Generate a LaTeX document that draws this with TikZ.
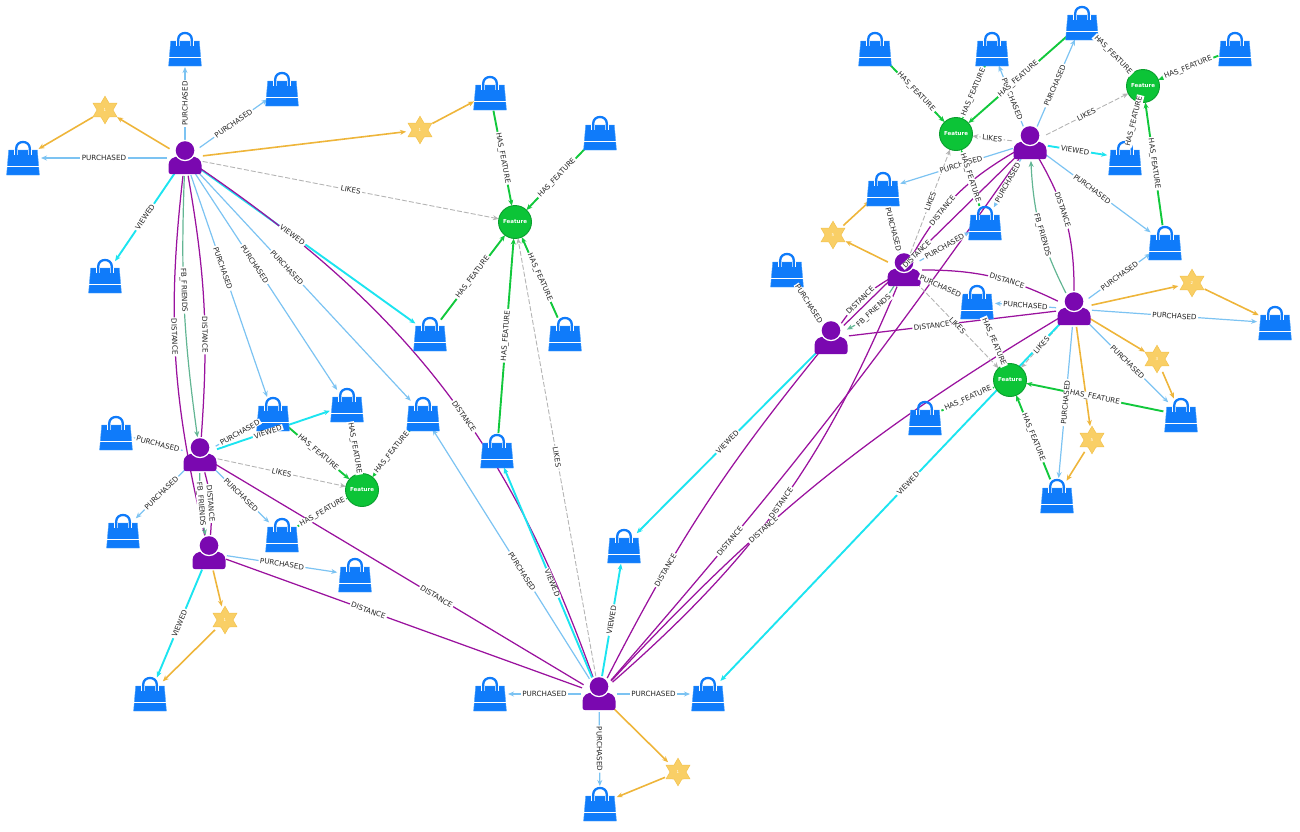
\documentclass[tikz,border=0pt]{standalone}
\usepackage{fontspec}
\setmainfont{DejaVu Sans}
\usetikzlibrary{arrows.meta,shapes.geometric}
\pgfdeclarelayer{edgelayer}
\pgfdeclarelayer{labellayer}
\pgfsetlayers{edgelayer,main,labellayer}
\definecolor{bagblue}{HTML}{0F7BFA}
\definecolor{bagedge}{HTML}{4DA3FC}
\definecolor{usrpurple}{HTML}{7A08B0}
\definecolor{featgreen}{HTML}{0CC437}
\definecolor{featedge}{HTML}{0A9E2E}
\definecolor{starfill}{HTML}{F9CF66}
\definecolor{staredge}{HTML}{F3C24E}
\definecolor{cpur}{HTML}{7CC3F2}
\definecolor{cview}{HTML}{1CE4F0}
\definecolor{cfeat}{HTML}{12C83C}
\definecolor{cdist}{HTML}{9A129E}
\definecolor{cfb}{HTML}{62B593}
\definecolor{clike}{HTML}{B4B4B4}
\definecolor{cstar}{HTML}{EEB53A}
\newcounter{edgeno}
\tikzset{
  x=1pt,y=-1pt,
  hit/.style={circle,minimum size=36pt,inner sep=0pt,outer sep=0pt},
  hitstar/.style={circle,minimum size=28pt,inner sep=0pt,outer sep=0pt},
  feat/.style={circle,minimum size=33pt,inner sep=0pt,outer sep=0pt,fill=featgreen,draw=featedge,line width=.9pt,
     text=white,font=\fontsize{5.5}{7}\selectfont\bfseries},
  tip/.style={-{Stealth[length=6pt,width=5pt]}},
  pur/.style={draw=cpur,line width=1.2pt,tip},
  view/.style={draw=cview,line width=1.9pt,tip},
  hasf/.style={draw=cfeat,line width=1.9pt,tip},
  dist/.style={draw=cdist,line width=1.25pt},
  fbf/.style={draw=cfb,line width=1.2pt,tip},
  likes/.style={draw=clike,line width=.9pt,dashed,dash pattern=on 5pt off 2pt,tip},
  orng/.style={draw=cstar,line width=1.6pt,tip},
  lab/.style={fill=white,text=black!85,inner xsep=1.5pt,inner ysep=.3pt,sloped,font=\fontsize{7.2}{8}\selectfont},
  pics/bagicon/.style={code={
    \fill[bagblue,draw=bagedge,line width=.4pt] (-14.3,-8) -- (14.3,-8) -- (16.4,17) -- (-16.4,17) -- cycle;
    \draw[white,line width=1.1pt] (-15.8,8.5) -- (15.8,8.5);
    \draw[white,line width=4pt] (-6.8,-7.6) -- (-6.8,-3);
    \draw[white,line width=4pt] (6.8,-7.6) -- (6.8,-3);
    \draw[bagblue,line width=2.3pt] (-6.8,-3.2) -- (-6.8,-9.5) .. controls (-6.8,-18.2) and (6.8,-18.2) .. (6.8,-9.5) -- (6.8,-3.2);
  }},
  pics/usericon/.style={code={
    \fill[usrpurple] (-16.5,13.5) -- (-16.5,7) .. controls (-16.5,1) and (-11,-1.5) .. (-6,-1.5) -- (6,-1.5) .. controls (11,-1.5) and (16.5,1) .. (16.5,7) -- (16.5,13.5) .. controls (16.5,15.3) and (15.3,16) .. (14,16) -- (-14,16) .. controls (-15.3,16) and (-16.5,15.3) .. (-16.5,13.5) -- cycle;
    \fill[white] (0,-7.5) circle[radius=10.7pt];
    \fill[usrpurple] (0,-7.5) circle[radius=9.3pt];
  }},
  pics/staricon/.style={code={
    \fill[starfill,draw=staredge,line width=.5pt]
      (0,-13.8) -- (4,-7) -- (12,-6.9) -- (8,0) -- (12,6.9) -- (4,7) -- (0,13.8) -- (-4,7) -- (-12,6.9) -- (-8,0) -- (-12,-6.9) -- (-4,-7) -- cycle;
  }},
}
\newcommand{\bagat}[3]{\node[hit] (#1) at (#2,#3) {}; \pic at (#1) {bagicon};}
\newcommand{\usrat}[3]{\node[hit] (#1) at (#2,#3) {}; \pic at (#1) {usericon};}
\newcommand{\starat}[4]{\node[hitstar] (#1) at (#2,#3) {}; \pic at (#1) {staricon}; \node[text=white,font=\fontsize{4}{5}\selectfont] (#1t) at (#1) {#4};}
% \ed{style}{from}{to}{label}{pos}
\newcommand{\ed}[5]{%
  \begin{pgfonlayer}{edgelayer}\draw[#1] (#2) to (#3);\end{pgfonlayer}%
  \stepcounter{edgeno}%
  \begin{pgfonlayer}{labellayer}\path[#1,draw=none] (#2) to node[lab,pos=#5] (lab\theedgeno) {#4} (#3);\end{pgfonlayer}%
}
\newcommand{\edn}[3]{\begin{pgfonlayer}{edgelayer}\draw[#1] (#2) to (#3);\end{pgfonlayer}}
\begin{document}
\begin{tikzpicture}
\useasboundingbox (0,0) rectangle (1300,831);
% bags
\bagat{b1}{185}{49}\bagat{b2}{282}{89}\bagat{b3}{23}{158}\bagat{b4}{105}{276}
\bagat{b5}{490}{93}\bagat{b6}{600}{133}\bagat{b7}{430}{334}\bagat{b8}{565}{334}
\bagat{b9}{497}{451}\bagat{b10}{423}{414}\bagat{b11}{347}{405}\bagat{b12}{273}{414}
\bagat{b13}{116}{433}\bagat{b14}{123}{531}\bagat{b15}{282}{535}\bagat{b16}{355}{575}
\bagat{b17}{150}{694}\bagat{b18}{490}{694}\bagat{b19}{624}{546}\bagat{b20}{708}{694}
\bagat{b21}{600}{804}
\bagat{b22}{875}{49}\bagat{b23}{992}{49}\bagat{b24}{1082}{23}\bagat{b25}{1235}{49}
\bagat{b26}{883}{189}\bagat{b27}{985}{223}\bagat{b28}{787}{270}\bagat{b29}{1165}{243}
\bagat{b30}{1275}{323}\bagat{b31}{977}{302}\bagat{b32}{925}{418}\bagat{b33}{1181}{415}
\bagat{b34}{1057}{496}\bagat{b35}{1125}{158}
% users
\usrat{p1}{185}{158}\usrat{p2}{200}{455}\usrat{p3}{209}{553}\usrat{p4}{599}{694}
\usrat{p5}{831}{338}\usrat{p6}{904}{270}\usrat{p7}{1030}{143}\usrat{p8}{1074}{309}
% features
\node[feat] (f1) at (515,222) {Feature};
\node[feat] (f2) at (362,490) {Feature};
\node[feat] (f3) at (956,134) {Feature};
\node[feat] (f4) at (1143,86) {Feature};
\node[feat] (f5) at (1010,380) {Feature};
% stars
\starat{s1}{105}{110}{1}\starat{s2}{420}{130}{1}\starat{s3}{225}{620}{1}\starat{s4}{678}{772}{1}
\starat{s5}{833}{235}{5}\starat{s6}{1192}{283}{2}\starat{s7}{1157}{359}{3}\starat{s8}{1092}{440}{5}
% p1
\ed{pur}{p1}{b1}{PURCHASED}{.5}
\ed{pur}{p1}{b2}{PURCHASED}{.5}
\ed{pur}{p1}{b3}{PURCHASED}{.5}
\edn{orng}{p1}{s1}\edn{orng}{s1}{b3}
\edn{orng}{p1}{s2}\edn{orng}{s2}{b5}
\ed{view}{p1}{b4}{VIEWED}{.5}
\ed{likes}{p1}{f1}{LIKES}{.5}
\ed{view}{p1}{b7}{VIEWED}{.43}
\ed{pur}{p1}{b12}{PURCHASED}{.42}
\ed{pur}{p1}{b11}{PURCHASED}{.42}
\ed{pur}{p1}{b10}{PURCHASED}{.42}
\ed{dist,bend right=10}{p1}{p3}{DISTANCE}{.44}
\ed{dist,bend left=7}{p1}{p2}{DISTANCE}{.62}
\ed{fbf,bend right=5}{p1}{p2}{FB\_FRIENDS}{.43}
\ed{dist,bend left=18}{p1}{p4}{DISTANCE}{.56}
% p2
\ed{pur}{p2}{b13}{PURCHASED}{.5}
\ed{pur}{p2}{b14}{PURCHASED}{.5}
\ed{pur}{p2}{b15}{PURCHASED}{.5}
\ed{pur}{p2}{b12}{PURCHASED}{.58}
\ed{view}{p2}{b11}{VIEWED}{.45}
\ed{likes}{p2}{f2}{LIKES}{.5}
\ed{fbf,bend right=6}{p2}{p3}{FB\_FRIENDS}{.5}
\ed{dist,bend left=10}{p2}{p3}{DISTANCE}{.5}
\ed{dist}{p2}{p4}{DISTANCE}{.6}
\ed{dist}{p3}{p4}{DISTANCE}{.4}
% p3
\ed{pur}{p3}{b16}{PURCHASED}{.5}
\ed{view}{p3}{b17}{VIEWED}{.5}
\edn{orng}{p3}{s3}\edn{orng}{s3}{b17}
% has_feature left
\ed{hasf}{b12}{f2}{HAS\_FEATURE}{.5}
\ed{hasf}{b11}{f2}{HAS\_FEATURE}{.5}
\ed{hasf}{b10}{f2}{HAS\_FEATURE}{.5}
\ed{hasf}{b15}{f2}{HAS\_FEATURE}{.5}
\ed{hasf}{b5}{f1}{HAS\_FEATURE}{.5}
\ed{hasf}{b6}{f1}{HAS\_FEATURE}{.5}
\ed{hasf}{b7}{f1}{HAS\_FEATURE}{.5}
\ed{hasf}{b8}{f1}{HAS\_FEATURE}{.5}
\ed{hasf}{b9}{f1}{HAS\_FEATURE}{.5}
% p4
\ed{likes}{p4}{f1}{LIKES}{.5}
\ed{view}{p4}{b9}{VIEWED}{.45}
\ed{pur}{p4}{b10}{PURCHASED}{.43}
\ed{view}{p4}{b19}{VIEWED}{.5}
\ed{pur}{p4}{b18}{PURCHASED}{.5}
\ed{pur}{p4}{b20}{PURCHASED}{.5}
\ed{pur}{p4}{b21}{PURCHASED}{.5}
\edn{orng}{p4}{s4}\edn{orng}{s4}{b21}
\ed{dist,bend left=6}{p4}{p5}{DISTANCE}{.3}
\ed{dist,bend right=13}{p4}{p6}{DISTANCE}{.5}
\ed{dist,bend right=3}{p4}{p7}{DISTANCE}{.26}
\ed{dist,bend left=8}{p4}{p8}{DISTANCE}{.36}
% p5
\ed{view}{p5}{b19}{VIEWED}{.5}
\ed{pur}{p5}{b28}{PURCHASED}{.5}
\ed{dist,bend left=12}{p5}{p6}{DISTANCE}{.45}
\ed{fbf,bend left=15}{p6}{p5}{FB\_FRIENDS}{.5}
\ed{dist}{p5}{p7}{DISTANCE}{.42}
\ed{dist}{p5}{p8}{DISTANCE}{.4}
% p6
\ed{pur}{p6}{b26}{PURCHASED}{.5}
\ed{pur}{p6}{b27}{PURCHASED}{.5}
\ed{pur}{p6}{b31}{PURCHASED}{.5}
\ed{likes}{p6}{f3}{LIKES}{.5}
\ed{likes}{p6}{f5}{LIKES}{.5}
\edn{orng}{p6}{s5}\edn{orng}{s5}{b26}
\ed{dist,bend left=15}{p6}{p7}{DISTANCE}{.35}
\ed{dist,bend left=13}{p6}{p8}{DISTANCE}{.62}
% p7
\ed{pur}{p7}{b23}{PURCHASED}{.45}
\ed{pur}{p7}{b24}{PURCHASED}{.47}
\ed{pur}{p7}{b26}{PURCHASED}{.46}
\ed{pur}{p7}{b27}{PURCHASED}{.49}
\ed{pur}{p7}{b29}{PURCHASED}{.45}
\ed{view}{p7}{b35}{VIEWED}{.46}
\ed{likes}{p7}{f3}{LIKES}{.5}
\ed{likes}{p7}{f4}{LIKES}{.49}
\ed{dist,bend left=15}{p7}{p8}{DISTANCE}{.4}
% has_feature right
\ed{hasf}{b22}{f3}{HAS\_FEATURE}{.5}
\ed{hasf}{b23}{f3}{HAS\_FEATURE}{.5}
\ed{hasf}{b24}{f3}{HAS\_FEATURE}{.5}
\ed{hasf}{b27}{f3}{HAS\_FEATURE}{.5}
\ed{hasf}{b24}{f4}{HAS\_FEATURE}{.5}
\ed{hasf}{b25}{f4}{HAS\_FEATURE}{.5}
\ed{hasf}{b35}{f4}{HAS\_FEATURE}{.5}
\ed{hasf}{b29}{f4}{HAS\_FEATURE}{.5}
\ed{hasf}{b31}{f5}{HAS\_FEATURE}{.5}
\ed{hasf}{b32}{f5}{HAS\_FEATURE}{.5}
\ed{hasf}{b33}{f5}{HAS\_FEATURE}{.5}
\ed{hasf}{b34}{f5}{HAS\_FEATURE}{.5}
% p8
\ed{pur}{p8}{b29}{PURCHASED}{.5}
\ed{pur}{p8}{b30}{PURCHASED}{.5}
\ed{pur}{p8}{b33}{PURCHASED}{.5}
\ed{pur}{p8}{b34}{PURCHASED}{.5}
\ed{pur}{p8}{b31}{PURCHASED}{.5}
\edn{orng}{p8}{s6}\edn{orng}{s6}{b30}
\edn{orng}{p8}{s7}\edn{orng}{s7}{b33}
\edn{orng}{p8}{s8}\edn{orng}{s8}{b34}
\ed{likes}{p8}{f5}{LIKES}{.5}
\ed{view}{p8}{b20}{VIEWED}{.45}
\ed{fbf,bend left=12}{p8}{p7}{FB\_FRIENDS}{.45}
\end{tikzpicture}
\end{document}
